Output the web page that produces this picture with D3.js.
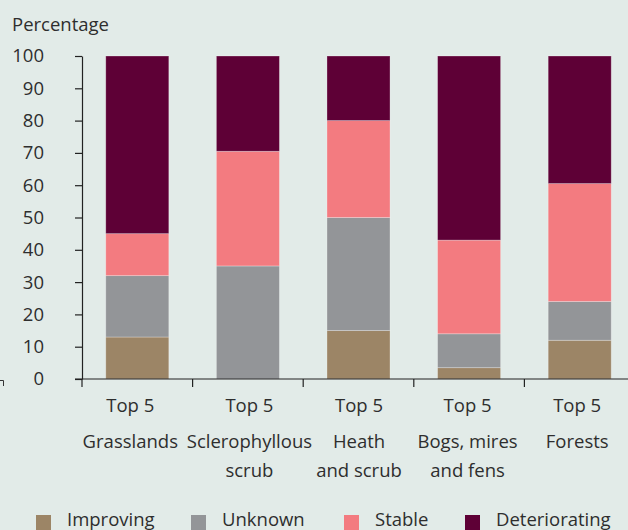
<!DOCTYPE html>
<html>
<head>
<meta charset="utf-8">
<script src="https://cdn.jsdelivr.net/npm/d3@7"></script>
<style>
  html, body { margin: 0; padding: 0; background: #e2ebe8; }
  svg { display: block; }
  text { font-family: "Open Sans", sans-serif; fill: #2e2e2e; }
</style>
</head>
<body>
<svg id="chart" width="628" height="530"></svg>
<script>
const categories = ["Grasslands", "Sclerophyllous", "Heath", "Bogs", "Forests"];
const labelLines = [
  ["Top 5", "Grasslands"],
  ["Top 5", "Sclerophyllous", "scrub"],
  ["Top 5", "Heath", "and scrub"],
  ["Top 5", "Bogs, mires", "and fens"],
  ["Top 5", "Forests"]
];
const seriesNames = ["Improving", "Unknown", "Stable", "Deteriorating"];
const improving     = [13, 0, 15, 3.5, 12];
const unknown       = [19, 35, 35, 10.5, 12];
const stable        = [13, 35.5, 30, 29, 36.5];
const deteriorating = [55, 29.5, 20, 57, 39.5];
const yTicks = [0, 10, 20, 30, 40, 50, 60, 70, 80, 90, 100];
const colors = ["#9c8566", "#939598", "#f37b80", "#5e0036"];

(function () {
const FS = 18.5;
const rows = categories.map((c, i) => ({
  cat: c,
  Improving: improving[i],
  Unknown: unknown[i],
  Stable: stable[i],
  Deteriorating: deteriorating[i]
}));

const svg = d3.select("#chart");
const mLeft = 82, mRight = 635, mTop = 56, mBottom = 379;

const x = d3.scaleBand().domain(categories).range([mLeft, mRight]).paddingInner(0.43).paddingOuter(0.215);
const y = d3.scaleLinear().domain([0, 100]).range([mBottom, mTop]);
const color = d3.scaleOrdinal().domain(seriesNames).range(colors);

const series = d3.stack().keys(seriesNames)(rows);

svg.append("g").selectAll("g").data(series).join("g")
  .attr("fill", d => color(d.key))
  .selectAll("rect").data(d => d).join("rect")
  .attr("x", d => x(d.data.cat))
  .attr("width", x.bandwidth())
  .attr("y", d => y(d[1]))
  .attr("height", d => y(d[0]) - y(d[1]))
  .attr("stroke", "rgba(255,255,255,0.35)")
  .attr("stroke-width", 0.8);

// Y axis
const yAxis = svg.append("g").attr("transform", `translate(${mLeft},0)`)
  .call(d3.axisLeft(y).tickValues(yTicks).tickSize(7).tickPadding(31).tickSizeOuter(0));
yAxis.selectAll("line").attr("stroke", "#222").attr("stroke-width", 1.2);
yAxis.select(".domain").attr("stroke", "#222").attr("stroke-width", 1.2);
yAxis.selectAll("text").attr("font-size", FS).attr("fill", "#2e2e2e")
  .attr("font-family", "'Open Sans', sans-serif");

// X axis with ticks at band boundaries
const xb = d3.scaleLinear().domain([0, categories.length]).range([mLeft, mLeft + x.step() * categories.length]);
const xAxisG = svg.append("g").attr("transform", `translate(0,${mBottom})`);
xAxisG.append("line").attr("x1", mLeft - 7).attr("x2", 628).attr("y1", 0).attr("y2", 0)
  .attr("stroke", "#222").attr("stroke-width", 1.2);
xAxisG.selectAll("line.tick").data(d3.range(categories.length)).join("line")
  .attr("class", "tick")
  .attr("x1", d => xb(d)).attr("x2", d => xb(d))
  .attr("y1", 0).attr("y2", 8)
  .attr("stroke", "#222").attr("stroke-width", 1.2);

const lineY = [33, 68.5, 97.5];
const labelShift = [-7, 1.5, 0.5, -1.5, -2.5];
const labels = svg.append("g");
labelLines.forEach((lines, i) => {
  const cx = x(categories[i]) + x.bandwidth() / 2 + labelShift[i];
  lines.forEach((t, j) => {
    labels.append("text")
      .attr("x", cx)
      .attr("y", mBottom + lineY[j])
      .attr("text-anchor", "middle")
      .attr("font-size", FS)
      .text(t);
  });
});

svg.append("text").attr("x", 12).attr("y", 31).attr("font-size", FS).text("Percentage");

// small stray mark at left edge
svg.append("path").attr("d", "M0,380.5 H3.5 V386").attr("fill", "none").attr("stroke", "#333").attr("stroke-width", 1);

// Legend
const legendX = [36, 191, 344, 465];
const leg = svg.append("g");
seriesNames.forEach((s, i) => {
  leg.append("rect").attr("x", legendX[i]).attr("y", 515).attr("width", 15).attr("height", 15).attr("fill", color(s));
  leg.append("text").attr("x", legendX[i] + 31).attr("y", 526).attr("font-size", FS).text(s);
});
})();
</script>
</body>
</html>
